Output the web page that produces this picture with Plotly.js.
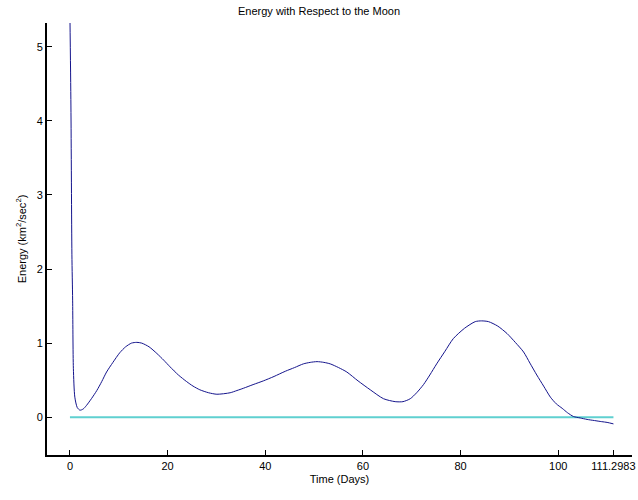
<!DOCTYPE html>
<html>
<head>
<meta charset="utf-8">
<script src="https://cdn.plot.ly/plotly-3.0.1.min.js"></script>
<style>html,body{margin:0;padding:0;background:#fff;}#chart{width:638px;height:500px;}</style>
</head>
<body>
<div id="chart"></div>
<script>
// Time (days)
const timeDays = [0, 0.2, 0.4, 0.55, 0.7, 1.0, 1.5, 2.05, 2.7, 3.4, 4.4, 5.5, 6.5, 7.5, 8.8, 10.2, 11.4, 12.6, 13.7, 14.7, 16.2, 17.8, 19.2, 20.5, 22.2, 23.9, 25.2, 26.6, 28.4, 30.1, 32.8, 34.2, 35.5, 37.5, 39.6, 41.8, 44.1, 46.0, 47.8, 49.2, 50.6, 52.0, 53.3, 55.0, 56.7, 59.0, 61.5, 64.2, 66.6, 68.2, 69.7, 71.0, 72.4, 73.7, 75.1, 76.8, 78.5, 80.8, 83.0, 84.3, 85.7, 87.6, 89.5, 91.2, 92.9, 94.2, 95.6, 97.0, 98.4, 99.6, 100.8, 101.9, 103.1, 104.5, 105.9, 107.4, 108.9, 110.0, 111.2983];
// Energy with respect to the Moon (km^2/sec^2)
const energy = [5.4, 4.2, 2.2, 1.58, 0.66, 0.27, 0.13, 0.095, 0.11, 0.16, 0.25, 0.36, 0.48, 0.61, 0.74, 0.87, 0.95, 1.0, 1.01, 1.0, 0.95, 0.86, 0.77, 0.68, 0.57, 0.48, 0.42, 0.37, 0.33, 0.31, 0.33, 0.36, 0.39, 0.44, 0.49, 0.55, 0.62, 0.67, 0.72, 0.74, 0.75, 0.74, 0.72, 0.67, 0.61, 0.49, 0.37, 0.25, 0.21, 0.21, 0.25, 0.33, 0.44, 0.57, 0.72, 0.89, 1.06, 1.2, 1.29, 1.3, 1.29, 1.23, 1.13, 1.01, 0.88, 0.73, 0.57, 0.42, 0.27, 0.18, 0.12, 0.06, 0.01, -0.01, -0.03, -0.045, -0.06, -0.07, -0.09];
// Zero reference line
const zeroX = [0, 111.2983];
const zeroY = [0, 0];
// Ticks
const xTickVals = [0, 20, 40, 60, 80, 100, 111.2983];
const xTickText = ['0', '20', '40', '60', '80', '100', '111.2983'];
const yTickVals = [0, 1, 2, 3, 4, 5];

const fontFam = '"Liberation Sans", Arial, Helvetica, sans-serif';

const traces = [
  {x: zeroX, y: zeroY, type: 'scatter', mode: 'lines', line: {color: '#5fd0d0', width: 2}, hoverinfo: 'skip'},
  {x: timeDays, y: energy, type: 'scatter', mode: 'lines', line: {color: '#14148c', width: 1, shape: 'spline', smoothing: 0.7}, cliponaxis: true}
];

const layout = {
  width: 638, height: 500,
  margin: {l: 47, r: 6, t: 23, b: 45},
  paper_bgcolor: '#fff', plot_bgcolor: '#fff',
  showlegend: false,
  font: {family: fontFam, size: 11, color: '#000'},
  title: {text: 'Energy with Respect to the Moon', x: 0.5, xanchor: 'center', y: 0.985, yanchor: 'top', font: {family: fontFam, size: 11, color: '#000'}},
  xaxis: {
    range: [-4.7, 115.1], tickvals: xTickVals, ticktext: xTickText,
    showgrid: false, zeroline: false, showline: true, linecolor: '#000', linewidth: 2,
    ticks: 'inside', ticklen: 5, tickcolor: '#000', tickwidth: 1,
    tickfont: {family: fontFam, size: 11, color: '#000'},
    title: {text: 'Time (Days)', font: {family: fontFam, size: 11, color: '#000'}, standoff: 4}
  },
  yaxis: {
    range: [-0.51, 5.32], tickvals: yTickVals,
    showgrid: false, zeroline: false, showline: true, linecolor: '#000', linewidth: 2,
    ticks: 'inside', ticklen: 5, tickcolor: '#000', tickwidth: 1,
    tickfont: {family: fontFam, size: 11, color: '#000'},
    title: {text: 'Energy (km<sup>2</sup>/sec<sup>2</sup>)', font: {family: fontFam, size: 11, color: '#000'}, standoff: 8}
  }
};

Plotly.newPlot('chart', traces, layout, {staticPlot: true, displayModeBar: false});
</script>
</body>
</html>
